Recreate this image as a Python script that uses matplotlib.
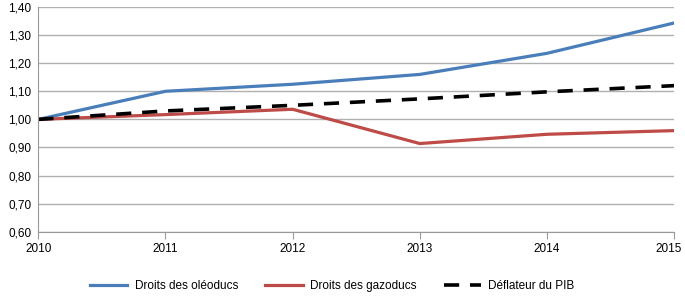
import matplotlib.pyplot as plt
from matplotlib.ticker import FuncFormatter
from matplotlib.transforms import ScaledTranslation

years = [2010, 2011, 2012, 2013, 2014, 2015]
oleoducs = [1.00, 1.10, 1.125, 1.16, 1.235, 1.343]
gazoducs = [1.00, 1.017, 1.036, 0.914, 0.947, 0.960]
deflateur = [1.00, 1.030, 1.050, 1.073, 1.098, 1.120]

plt.rcParams['font.family'] = ['Liberation Sans Narrow', 'Liberation Sans', 'DejaVu Sans']

fig, ax = plt.subplots(figsize=(6.85, 3.03), dpi=100)
fig.subplots_adjust(left=0.056, right=0.984, top=0.977, bottom=0.235)

ax.plot(years, oleoducs, color='#4a7ebb', lw=2.3, label='Droits des oléoducs')
ax.plot(years, gazoducs, color='#be4b48', lw=2.3, label='Droits des gazoducs')
ax.plot(years, deflateur, color='black', lw=2.6, ls=(0, (4.2, 3.0)), label='Déflateur du PIB')

ax.set_xlim(2010, 2015)
ax.set_ylim(0.6, 1.4)
ax.set_xticks(years)
ax.set_yticks([0.6 + 0.1 * i for i in range(9)])
ax.yaxis.set_major_formatter(FuncFormatter(lambda v, p: f"{v:.2f}".replace('.', ',')))
ax.grid(axis='y', color='#b0b0b0', lw=1)
ax.set_axisbelow(True)
for s in ['top', 'right']:
    ax.spines[s].set_visible(False)
for s in ['left', 'bottom']:
    ax.spines[s].set_color('#999999')
ax.tick_params(axis='y', length=0, labelsize=8.5, pad=5)
ax.tick_params(axis='x', length=5, color='#999999', labelsize=8.5, pad=3)

# keep the last year label inside the figure
last = ax.get_xticklabels()[-1]
last.set_transform(last.get_transform() + ScaledTranslation(-4 / 72, 0, fig.dpi_scale_trans))

fig.legend(loc='lower center', ncol=3, frameon=False, fontsize=8.5,
           bbox_to_anchor=(0.485, 0.0), handlelength=3.2, handletextpad=0.6,
           columnspacing=2.3)

fig.savefig('out.png', dpi=100)
